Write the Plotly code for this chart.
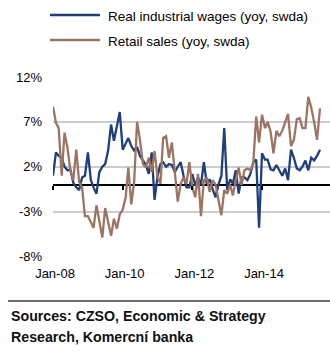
import pandas as pd
import plotly.graph_objects as go

# ---- data ----
months = pd.date_range("2008-01-01", periods=93, freq="MS")

wages = [1.0, 3.6, 3.2, 3.0, 2.0, 1.6, 1.7, 0.2, -0.3, -0.6,
         0.8, 1.0, 3.6, 0.5, -0.3, -1.0, 1.4, 2.0, 2.3, 3.8,
         6.7, 4.9, 6.5, 8.1, 3.9, 4.5, 5.2, 4.3, 3.8, 4.2,
         3.2, 2.7, 2.2, 1.2, 3.6, -1.7, 0.9, 2.3, 2.5, 2.0,
         2.3, 2.2, 1.4, 2.0, 2.5, 1.0, -0.3, -0.3, 1.2, -0.1,
         0.8, 0.0, 2.5, 0.1, 0.6, -0.5, -1.4, 0.0, 1.0, 6.3,
         -0.6, 0.6, 0.1, 1.6, -1.0, 0.8, 0.8, 0.5, 1.2, 2.5,
         2.8, -4.8, 3.5, 2.8, 2.8, 1.7, 1.6, 2.2, 1.6, 1.0,
         1.8, 0.5, 3.9, 3.0, 1.8, 1.6, 2.0, 2.7, 1.6, 3.0,
         2.7, 3.2, 3.9]

retail = [8.7, 6.9, 6.3, 1.0, 5.8, 4.1, 1.6, 0.5, 3.9, 0.3,
          -0.3, -3.5, -3.5, -4.2, -4.8, -2.3, -4.0, -5.9, -2.6, -4.0,
          -5.7, -3.8, -4.9, -3.3, -2.8, -1.4, 1.9, -2.2, 0.3, 7.0,
          5.0, 2.3, 1.9, 3.0, 1.4, 3.75, 0.9, 0.1, 5.2, 5.4,
          3.0, 4.7, 1.6, -1.9, 0.1, 0.8, 0.1, 2.5, -0.3, -1.4,
          1.2, -3.5, 0.5, 0.8, -0.8, 0.5, 0.0, -1.7, -3.4, -0.6,
          -1.0, 0.0, -1.2, 0.5, 1.9, 0.0, 1.6, 1.8, 1.6, 2.3,
          7.6, 4.7, 7.8, 6.3, 7.0, 5.9, 3.5, 6.0, 5.4, 6.0,
          7.0, 7.9, 4.3, 5.0, 7.3, 7.4, 6.3, 6.3, 9.8, 8.6,
          7.0, 5.0, 8.5]

series_names = ["Real industrial wages (yoy, swda)", "Retail sales (yoy, swda)"]
y_tickvals = [-8, -3, 2, 7, 12]
y_ticktext = ["-8%", "-3%", "2%", "7%", "12%"]
source_lines = ["Sources: CZSO, Economic & Strategy", "Research, Komercní banka"]

# ---- style / layout ----
BLUE = "#1E3F7C"
BROWN = "#9C7562"
FONT = "Liberation Sans, Arial, sans-serif"
W, H = 330, 352
ML, MR, MT, MB = 53, 0, 77, 95
PW, PH = W - ML - MR, H - MT - MB
XRANGE = ["2008-01-01", "2015-12-15"]


def px(xp):
    return (xp - ML) / PW


def py(yp):
    return (H - MB - yp) / PH


fig = go.Figure()
fig.add_trace(go.Scatter(x=months, y=wages, mode="lines", name=series_names[0],
                         line=dict(color=BLUE, width=2.3), xaxis="x", yaxis="y"))
fig.add_trace(go.Scatter(x=months, y=retail, mode="lines", name=series_names[1],
                         line=dict(color=BROWN, width=2.3), xaxis="x2", yaxis="y"))

shapes = []
annotations = []
# custom legend
for i, (name, col) in enumerate(zip(series_names, [BLUE, BROWN])):
    yl = 15 + 25 * i
    shapes.append(dict(type="line", xref="paper", yref="paper",
                       x0=px(50), x1=px(100), y0=py(yl), y1=py(yl),
                       line=dict(color=col, width=2.5)))
    annotations.append(dict(text=name, xref="paper", yref="paper",
                            x=px(106), y=py(yl + 1), xanchor="left", yanchor="middle",
                            showarrow=False, font=dict(family=FONT, size=13.5, color="#000")))
# separator line
shapes.append(dict(type="line", xref="paper", yref="paper",
                   x0=px(8), x1=px(330), y0=py(301), y1=py(301),
                   line=dict(color="#6E6E6E", width=2)))
# sources
for i, t in enumerate(source_lines):
    annotations.append(dict(text="<b>" + t + "</b>", xref="paper", yref="paper",
                            x=px(9), y=py(316 + 21 * i), xanchor="left", yanchor="middle",
                            showarrow=False, font=dict(family=FONT, size=14.2, color="#111")))

fig.update_layout(
    width=W, height=H,
    margin=dict(l=ML, r=MR, t=MT, b=MB, pad=0),
    paper_bgcolor="white", plot_bgcolor="white",
    showlegend=False,
    font=dict(family=FONT, size=13, color="#000"),
    xaxis=dict(type="date", range=XRANGE, showgrid=False, showline=False, zeroline=False,
               ticks="", tickformat="%b-%y", dtick="M24", tick0="2008-01-01",
               ticklabelstandoff=7, ticklabelshift=2,
               tickfont=dict(family=FONT, size=13, color="#000")),
    xaxis2=dict(type="date", range=XRANGE, overlaying="x", anchor="free", position=0.4,
                side="bottom", showgrid=False, showline=False, zeroline=False,
                showticklabels=False, ticks="outside", ticklen=4, tickwidth=1.5,
                tickcolor="#000", dtick="M24", tick0="2008-01-01"),
    yaxis=dict(range=[-8.06, 12], tickvals=y_tickvals, ticktext=y_ticktext,
               showgrid=True, gridcolor="#CCCCCC", gridwidth=2,
               zeroline=True, zerolinecolor="#000", zerolinewidth=2,
               showline=False, ticks="", ticklabelstandoff=10,
               tickfont=dict(family=FONT, size=13, color="#000")),
    shapes=shapes,
    annotations=annotations,
)

fig.write_html("out.html")
